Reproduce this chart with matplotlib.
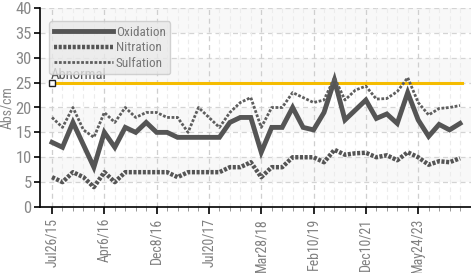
import matplotlib
matplotlib.use("Agg")
import matplotlib.pyplot as plt
import matplotlib.font_manager as fm
import numpy as np

dates = ["Jul26/15", "Apr6/16", "Dec8/16", "Jul20/17", "Mar28/18",
         "Feb10/19", "Dec10/21", "May24/23"]
label_step = 5

oxidation = [13, 12, 17, 12.5, 8, 15, 12, 16, 15, 17,
             15, 15, 14, 14, 14, 14, 14, 17, 18, 18,
             11, 16, 16, 20, 16, 15.5, 19, 25.5, 17.5, 19.5,
             21.5, 17.8, 18.7, 16.8, 23, 17.5, 14.2, 16.6, 15.5, 16.8]
nitration = [6, 5, 7, 6, 4, 7, 5, 7, 7, 7,
             7, 7, 6, 7, 7, 7, 7, 8, 8, 9,
             6, 8, 8, 10, 10, 10, 9, 11.5, 10.5, 10.8,
             10.9, 10, 10.4, 9.4, 11, 10, 8.5, 9.2, 9, 9.8]
sulfation = [18, 16, 20, 15.5, 14, 19, 17, 20, 18, 19,
             19, 18, 18, 15, 20, 18, 16, 19, 21, 22,
             16, 20, 20, 23, 22, 21, 21.5, 26, 21.5, 23.5,
             24.3, 21.7, 21.8, 23.2, 26, 21, 18.5, 19.8, 20, 20.4]
abnormal = 25

# pick a condensed / narrow face if one is installed
narrow = None
prefs = ['liberationsansnarrow-regular', 'robotocondensed-regular',
         'dejavusanscondensed.ttf', 'opensans_condensed', 'opensanscondensed']
entries = fm.fontManager.ttflist
for p in prefs:
    for f in entries:
        if p in f.fname.lower().replace(' ', '').replace('_', '') or p in f.fname.lower():
            narrow = f
            break
    if narrow:
        break
if narrow is None:
    for f in entries:
        low = f.fname.lower()
        if ('narrow' in low or 'condensed' in low) and not any(
                k in low for k in ('bold', 'italic', 'oblique', 'light', 'thin', 'black', 'medium', 'semi')):
            narrow = f
            break

if narrow is not None:
    plt.rcParams['font.family'] = [narrow.name, 'DejaVu Sans']
    plt.rcParams['font.stretch'] = narrow.stretch
    scale = 1.0
else:
    plt.rcParams['font.family'] = ['DejaVu Sans']
    scale = 0.82

n = len(oxidation)
x = np.arange(n)

fig = plt.figure(figsize=(4.71, 2.73), dpi=100)
ax = fig.add_axes([40/471, 66/273, 431/471, 199/273])

ax.set_xlim(-1.15, n + 0.05)
ax.set_ylim(0, 40)

for lo in range(0, 40, 10):
    ax.axhspan(lo + 5, lo + 10, color='#f8f8f8', zorder=0, lw=0)

for yv in range(5, 41, 5):
    ax.axhline(yv, color='#d4d4d4', lw=0.9, ls=(0, (4, 3)), zorder=1)
for xv in x:
    if xv % label_step == 0:
        ax.axvline(xv, color='#cfcfcf', lw=0.9, ls=(0, (4, 3)), zorder=1)
    else:
        ax.axvline(xv, color='#ececec', lw=0.8, ls=(0, (4, 3)), zorder=1)

ax.plot(x, oxidation, color='#555555', lw=3.5, solid_joinstyle='miter', label='Oxidation', zorder=4)
ax.plot(x, nitration, color='#555555', lw=3.2, ls=(0, (0.7, 0.35)), label='Nitration', zorder=4)
ax.plot(x, sulfation, color='#5e5e5e', lw=2.0, ls=(0, (1.0, 0.6)), label='Sulfation', zorder=4)

ax.plot([0.25, n - 1 + 0.2], [abnormal, abnormal], color='#F5BC00', lw=2.2, zorder=3)
ax.plot([0], [abnormal], marker='s', ms=4.5, mfc='white', mec='#222222', mew=1.0, zorder=5)
ax.text(-0.1, abnormal + 0.7, 'Abnormal', fontsize=10.5 * scale, color='#555555', zorder=3)

ax.set_xticks(x[::label_step])
ax.set_xticklabels(dates, rotation=90, fontsize=10 * scale, color='#808080')
ax.set_xticks(x, minor=True)
ax.set_yticks(range(0, 41, 5))
ax.tick_params(axis='y', labelsize=12 * scale, colors='#888888', length=4, width=1.2, color='black', pad=2)
ax.tick_params(axis='x', which='major', length=5, width=1.2, color='black', pad=3)
ax.tick_params(axis='x', which='minor', length=3, width=0.6, color='#888888')
ax.set_ylabel('Abs/cm', fontsize=10 * scale, color='#888888', labelpad=1)

for s in ['top', 'right']:
    ax.spines[s].set_visible(False)
ax.spines['left'].set_color('black')
ax.spines['bottom'].set_color('black')
ax.spines['left'].set_linewidth(1.2)
ax.spines['bottom'].set_linewidth(1.2)

leg = ax.legend(loc='upper left', bbox_to_anchor=(0.006, 0.968), fontsize=9.5 * scale,
                handlelength=4.5, handletextpad=0.2,
                labelspacing=0.2, borderpad=0.35, fancybox=True, framealpha=0.8,
                facecolor='#e8e8e8', edgecolor='#c8c8c8', labelcolor='#777777')
leg.set_zorder(6)

fig.savefig('out.png', dpi=100)
